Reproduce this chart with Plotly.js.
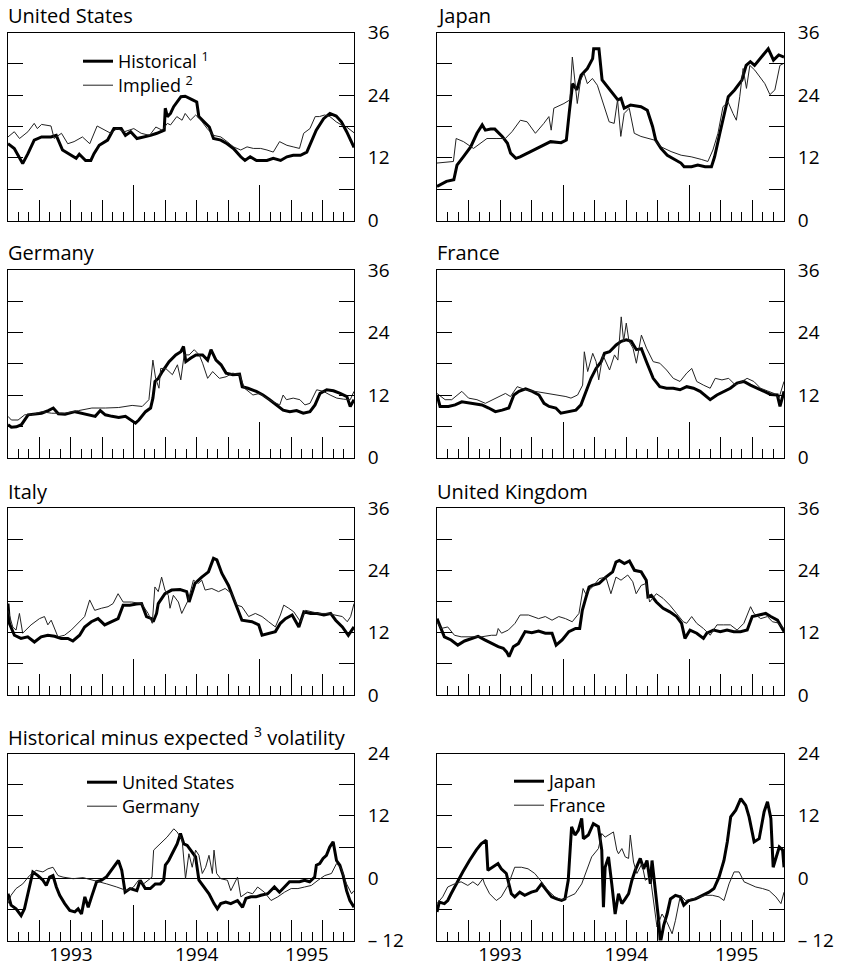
<!DOCTYPE html>
<html><head><meta charset="utf-8">
<script src="https://cdn.plot.ly/plotly-3.0.1.min.js"></script>
<style>html,body{margin:0;padding:0;background:#fff}</style>
</head><body><div id="chart" style="width:846px;height:970px"></div>
<script>
// ---- axis tick definitions (months since Jan 1993) ----
const monthTicks = [1,2,3,4,5,6,7,8,9,10,11,12,13,14,15,16,17,18,19,20,21,22,23,24,25,26,27,28,29,30,31,32];
const quarterTicks = [3,6,9,12,15,18,21,24,27,30];
const yearTicks = [12,24];
const yearLabelPos = [6,18,28.5];
const yearLabels = ['1993','1994','1995'];
const levelTicks = [0,12,24,36];
const levelText = ['0','12','24','36'];
const levelMinor = [6,18,30];
const diffTicks = [-12,0,12,24];
const diffText = ['\u2013 12','0','12','24'];
const diffMinor = [-6,6,18];

// ---- United States ----
const usHistM = [0,0.6,1.4,1.9,2.5,3.2,4.1,4.6,5.2,6.0,6.5,6.8,7.4,7.9,8.2,8.7,9.5,10.1,10.8,11.2,11.7,12.3,13.0,13.6,14.2,14.9,15.0,15.2,15.5,15.8,16.5,16.9,17.6,18.0,18.2,18.7,19.2,19.6,20.3,20.9,21.5,22.2,22.6,23.1,23.7,24.7,25.3,26.0,26.6,27.2,27.9,28.5,29.0,29.4,30.1,30.7,31.3,31.8,32.3,32.8,33.0];
const usHistV = [14.7,13.8,10.9,12.8,15.4,16.0,16.0,16.3,13.5,12.5,11.9,12.7,11.5,11.5,12.8,14.4,15.4,17.6,17.6,16.3,17.0,15.7,16.0,16.3,16.7,17.3,21.5,19.9,20.5,21.8,23.7,23.8,23.1,22.7,19.9,18.9,17.9,15.7,15.4,14.7,13.8,12.2,11.5,12.2,11.5,11.5,11.9,11.5,12.2,12.5,12.5,13.1,15.4,17.3,19.5,20.5,20.0,18.9,17.0,14.7,14.0];
const usImpM = [0,0.6,1.1,1.9,2.5,2.8,3.2,4.1,4.4,5.1,5.7,6.3,7.1,7.8,8.5,9.2,9.8,10.4,11.1,12.0,12.7,13.5,14.1,14.7,15.2,15.5,16.1,16.6,16.9,17.4,17.9,18.4,19.0,19.6,20.3,20.9,21.5,22.2,22.8,23.4,24.1,24.7,25.3,25.9,26.6,27.2,27.8,28.2,28.8,29.3,29.7,30.2,30.7,31.3,31.8,32.3,32.8,33.0];
const usImpV = [16.0,17.0,15.7,17.0,18.6,17.6,18.4,18.1,15.7,16.7,14.7,15.1,16.0,14.7,18.1,17.3,16.7,17.6,17.0,17.6,16.7,16.3,17.9,17.3,18.6,18.3,19.9,19.2,20.5,19.2,20.2,19.2,17.6,16.3,16.0,15.1,14.1,13.5,14.1,13.8,13.8,13.5,13.1,15.1,14.4,14.1,13.8,16.7,17.6,19.9,19.9,20.2,19.9,18.9,18.3,17.9,17.0,16.8];

// ---- Japan ----
const jpHistM = [0,0.9,1.6,1.9,2.5,3.2,3.8,4.3,4.6,5.1,5.5,6.2,6.7,7.0,7.5,7.9,8.9,9.8,10.8,11.8,12.3,12.6,12.9,13.3,13.7,14.3,14.8,14.9,15.4,15.7,16.2,16.9,17.2,17.5,17.8,18.4,19.4,20.0,20.5,20.8,21.3,21.9,22.6,23.2,23.5,24.2,24.8,25.5,26.1,26.4,26.9,27.4,27.7,28.3,29.0,29.4,29.8,30.2,30.7,31.5,32.0,32.5,33.0];
const jpHistV = [6.5,7.5,7.8,10.6,12.2,14.1,16.7,18.3,17.3,17.5,17.5,16.1,14.8,12.9,11.9,12.2,13.2,14.1,15.1,14.9,15.4,21.1,26.2,25.0,27.8,29.1,31.0,32.9,32.9,26.9,25.6,24.0,23.1,23.4,21.5,22.1,21.8,21.1,18.0,15.4,13.8,12.5,11.6,11.0,10.3,10.3,10.6,10.3,10.3,12.2,16.7,21.1,23.7,25.0,26.9,29.7,30.4,29.7,31.0,32.9,30.7,31.7,31.3];
const jpImpM = [0,1.56,1.82,2.52,3.47,4.11,4.75,5.7,6.5,7.13,7.93,8.57,9.36,10.16,10.64,10.86,11.11,12.07,12.64,12.87,13.09,13.34,13.66,13.98,14.3,14.78,15.25,15.73,16.37,16.85,17.17,17.48,17.8,18.28,18.76,19.39,20.03,20.67,21.31,22.26,23.22,24.17,25.13,25.76,26.24,26.72,27.2,27.68,28.15,28.47,28.79,29.11,29.43,29.75,30.22,30.7,31.18,31.66,32.13,32.61,33.0];
const jpImpV = [11.0,11.3,15.7,15.1,13.8,14.8,15.7,15.7,15.7,17.0,19.2,18.9,16.7,18.6,19.9,17.3,21.5,22.4,23.1,31.3,26.9,22.4,26.9,28.2,26.2,27.2,25.9,22.7,18.9,18.6,23.1,16.1,20.5,21.5,16.7,16.1,15.7,15.4,14.1,13.2,12.5,12.2,11.7,11.3,13.5,16.7,21.8,22.7,20.5,19.2,23.7,29.1,25.3,29.7,28.8,27.5,26.2,24.1,25.0,29.7,30.1];

// ---- Germany ----
const deHistM = [0,0.32,0.8,1.28,1.92,2.56,3.2,3.84,4.32,4.8,5.44,6.4,7.04,7.68,8.32,8.8,9.28,9.92,10.56,11.2,11.68,12.16,12.48,13.12,13.6,13.82,14.02,14.34,14.72,15.36,16.0,16.48,16.74,16.96,17.44,17.92,18.56,19.04,19.36,19.84,20.32,20.8,21.44,22.08,22.34,22.88,23.68,24.32,24.96,25.6,26.24,26.88,27.52,28.16,28.8,29.28,29.76,30.4,31.04,31.68,32.32,32.64,33.0];
const deHistV = [6.3,5.8,5.9,6.3,8.2,8.4,8.5,9.0,9.5,8.4,8.3,8.8,8.5,8.2,7.9,9.0,8.2,7.9,7.7,7.9,7.2,6.6,7.2,8.8,9.5,11.4,14.6,15.2,16.5,18.4,19.7,20.3,21.3,18.4,19.1,19.7,19.7,18.7,20.7,18.7,17.8,16.2,15.9,16.0,13.6,13.3,12.7,12.0,11.1,10.1,9.1,8.8,9.0,8.5,8.8,10.1,12.3,13.0,12.8,12.3,11.7,9.8,11.1];
const deImpM = [0,0.32,0.96,1.6,2.24,3.2,4.16,5.44,6.72,8.0,9.28,10.56,11.84,12.8,13.44,13.82,14.08,14.4,14.56,15.04,15.68,16.16,16.48,16.8,17.28,17.76,18.24,18.56,19.04,19.52,20.16,20.8,21.44,22.08,22.56,23.36,24.0,24.64,25.28,25.92,26.24,26.56,27.2,27.84,28.32,28.8,29.44,30.08,30.72,31.36,32.0,32.64,33.0];
const deImpV = [7.9,7.2,7.2,8.2,8.2,8.8,8.5,8.5,9.0,9.5,9.5,9.6,10.0,9.8,11.1,18.7,15.2,13.3,17.1,17.1,15.9,17.8,14.9,19.7,19.7,20.7,19.7,18.1,15.2,16.5,15.2,15.5,16.2,15.9,13.3,12.0,12.3,11.4,10.7,10.1,12.0,11.1,11.4,11.1,10.1,10.4,13.0,12.7,12.0,11.4,11.2,11.1,12.7];

// ---- France ----
const frHistM = [0,0.29,1.09,1.72,2.36,3.32,4.28,4.92,5.55,6.19,6.83,7.31,7.79,8.43,9.06,9.7,10.18,10.66,11.3,11.78,12.58,13.21,13.69,14.17,14.65,15.13,15.61,15.93,16.41,17.04,17.52,18.0,18.48,18.96,19.44,19.92,20.56,21.19,21.83,22.47,23.11,23.75,24.39,25.02,25.66,25.98,26.62,27.26,27.9,28.53,29.17,29.81,30.45,31.09,31.73,32.36,32.62,33.0];
const frHistV = [12.0,9.8,9.8,10.1,10.7,10.4,10.1,9.5,8.8,9.1,9.5,12.0,12.7,13.2,12.7,12.0,10.4,9.8,9.5,8.5,8.8,9.1,10.1,12.7,15.2,17.1,18.4,20.0,20.3,21.6,22.3,22.6,22.3,20.7,20.9,18.4,15.2,13.6,13.3,13.3,13.0,13.6,13.3,12.7,11.7,11.1,12.0,12.7,13.3,14.3,14.6,13.9,13.3,12.7,12.1,12.0,9.8,12.7];
const frImpM = [0,0.77,1.4,2.36,3.0,3.8,4.6,5.55,6.51,6.99,7.63,8.43,9.38,10.34,11.3,12.26,12.74,13.37,13.85,14.01,14.33,14.81,15.13,15.38,15.77,16.41,16.88,17.2,17.52,17.75,18.0,18.26,18.64,18.96,19.44,19.92,20.56,21.19,21.83,22.47,23.11,23.75,24.23,24.7,25.34,25.98,26.46,27.1,27.74,28.38,29.01,29.49,30.13,30.77,31.41,32.05,32.52,33.0];
const frImpV = [12.3,11.1,11.1,12.7,11.4,11.1,10.4,11.4,12.3,11.7,13.6,13.0,12.7,12.3,12.1,11.7,11.4,12.0,13.9,20.3,16.5,20.0,18.4,14.9,19.7,16.8,19.7,18.7,27.0,22.3,25.8,22.3,21.0,18.1,23.5,21.0,18.4,18.1,16.8,15.2,14.6,16.2,17.1,14.6,13.9,13.3,15.2,14.9,15.2,13.9,14.6,15.2,14.6,13.3,12.8,12.3,11.4,14.6];

// ---- Italy ----
const itHistM = [0,0.13,0.61,1.24,1.88,2.52,3.16,3.8,4.44,5.07,5.71,6.19,6.83,7.31,7.95,8.59,9.22,9.86,10.5,10.98,11.62,12.26,12.74,13.21,13.69,13.85,14.17,14.33,14.97,15.61,16.41,17.04,17.27,17.84,18.48,19.12,19.6,19.92,20.4,21.03,21.67,22.31,23.27,23.91,24.23,24.86,25.5,25.98,26.46,27.1,27.74,28.22,28.85,29.49,30.13,30.77,31.25,31.89,32.46,33.0];
const itHistV = [17.6,13.8,11.5,10.9,11.2,10.2,11.2,11.5,11.3,10.9,10.9,10.4,11.5,13.1,14.1,14.7,13.5,14.1,14.7,17.3,17.3,17.5,17.6,15.1,14.7,14.1,15.7,17.6,19.5,20.2,20.3,19.9,17.9,21.5,22.7,23.7,26.3,26.0,23.4,21.1,17.6,14.4,14.1,13.5,11.5,11.9,12.2,13.8,14.7,15.4,13.1,16.0,15.7,15.7,15.4,15.7,14.4,13.1,11.5,13.1];
const itImpM = [0,0.45,0.77,1.09,1.4,2.2,3.0,3.48,3.8,4.12,4.76,5.39,6.03,6.67,7.31,7.79,8.27,8.91,9.54,10.02,10.5,10.98,11.78,12.74,13.37,13.76,14.01,14.33,14.65,14.97,15.29,15.45,15.77,16.25,16.57,17.2,17.68,18.16,18.48,18.8,19.44,20.08,20.71,21.35,21.83,22.31,22.95,23.59,24.23,24.86,25.5,25.98,26.3,26.78,27.26,27.9,28.38,29.01,29.65,30.45,31.25,31.89,32.36,32.68,33.0];
const itImpV = [16.3,13.1,12.5,15.7,11.9,13.5,14.7,15.1,13.5,14.4,11.2,11.5,12.5,13.8,15.1,18.3,16.3,16.7,17.0,17.6,19.5,17.9,17.9,17.6,15.7,13.8,20.8,19.9,22.7,20.2,19.2,16.7,19.2,17.9,15.7,18.3,22.1,21.5,22.1,20.2,20.5,19.9,20.5,19.5,17.3,17.0,15.1,15.7,15.1,14.1,13.1,15.4,17.3,16.7,16.0,14.1,16.3,16.0,15.7,15.7,15.4,15.1,14.1,15.1,17.6];

// ---- United Kingdom ----
const ukHistM = [0,0.22,0.7,1.34,1.98,2.62,3.26,3.9,4.54,5.18,5.82,6.3,6.62,6.85,7.26,7.74,8.38,9.02,9.66,10.3,10.94,11.33,11.9,12.54,13.18,13.57,13.82,14.14,14.46,14.78,15.42,16.06,16.7,17.02,17.34,17.82,18.3,18.78,19.42,19.9,20.06,20.38,20.86,21.5,22.14,22.78,23.26,23.58,24.06,24.7,25.34,25.66,26.3,26.94,27.58,28.22,28.86,29.5,29.98,30.62,31.26,31.74,32.38,33.0];
const ukHistV = [14.7,13.5,11.2,10.6,9.6,10.4,10.9,11.3,10.6,9.9,9.3,9.0,8.3,7.4,9.3,9.9,12.2,12.0,12.3,11.9,11.9,9.6,10.6,12.2,12.8,12.8,16.3,18.6,20.8,21.1,21.5,22.7,23.7,25.6,25.9,25.3,25.8,24.0,23.7,22.1,18.9,19.2,17.9,16.7,16.0,15.1,13.8,10.9,12.5,11.9,10.9,11.9,12.5,12.2,12.5,12.2,12.2,12.5,15.1,15.4,15.7,15.1,14.4,12.2];
const ukImpM = [0,0.38,1.02,1.66,2.3,3.26,4.22,5.18,5.66,5.82,6.14,6.78,7.42,7.9,8.7,9.66,10.3,10.94,11.58,12.22,12.86,13.5,13.89,14.14,14.78,15.42,16.06,16.54,17.02,17.5,18.14,18.62,18.94,19.42,19.9,20.22,20.86,21.5,22.14,22.78,23.42,23.74,24.22,24.7,25.34,25.98,26.62,27.26,27.9,28.54,29.18,29.82,30.14,30.78,31.42,31.9,32.38,33.0];
const ukImpV = [14.1,12.8,13.1,11.5,11.2,11.2,11.2,11.5,11.5,12.8,11.9,12.5,13.8,15.4,15.4,14.7,15.1,14.4,15.1,14.7,14.1,15.7,20.5,19.5,20.8,22.4,22.7,19.5,22.7,22.1,23.1,21.8,19.5,21.1,21.5,17.9,19.5,18.6,17.3,15.7,14.1,13.8,15.1,13.8,12.8,11.5,13.5,13.5,13.5,12.5,13.8,17.0,15.7,14.7,15.1,14.1,13.9,12.8];

// ---- Historical minus expected volatility ----
const usDiffM = [0,0.29,0.77,1.25,1.57,2.05,2.37,2.85,3.33,3.65,3.97,4.29,4.61,4.93,5.41,5.89,6.37,6.69,7.01,7.33,7.65,7.97,8.45,8.93,9.41,10.05,10.53,10.85,11.17,11.65,12.29,12.61,13.09,13.57,14.05,14.53,14.85,15.01,15.33,15.65,16.13,16.45,16.77,17.09,17.57,17.89,18.21,18.69,19.17,19.65,19.97,20.29,20.77,21.25,21.89,22.37,22.69,23.17,23.65,24.13,24.77,25.41,25.89,26.37,26.85,27.33,27.81,28.29,28.77,29.25,29.41,29.73,30.05,30.37,30.69,31.01,31.33,31.65,31.97,32.29,32.61,33.0];
const usDiffV = [-3.0,-5.2,-5.9,-7.2,-5.9,-2.0,1.2,0.5,-0.4,-1.4,0.2,0.5,-1.7,-3.3,-4.9,-6.2,-6.5,-5.9,-6.9,-3.6,-5.6,-3.6,-0.7,-0.4,0.3,2.1,3.4,1.5,-2.7,-2.0,-2.4,-0.4,-2.0,-2.0,-1.1,-1.1,-0.4,2.5,3.4,4.7,6.6,8.6,6.6,6.3,5.0,4.1,-0.4,-1.7,-3.0,-4.9,-5.9,-4.9,-4.6,-4.9,-4.3,-5.6,-3.9,-3.6,-3.6,-3.3,-3.0,-1.7,-2.7,-1.7,-0.7,-0.7,-0.7,-0.4,-0.7,0.2,2.5,2.8,3.8,4.4,6.0,7.0,3.4,2.5,0.5,-2.4,-4.3,-5.6];
const deDiffM = [0,0.29,0.77,1.41,2.05,2.69,3.33,3.81,4.29,4.77,5.25,6.21,7.17,8.13,8.77,9.41,10.37,11.33,11.97,12.45,12.93,13.41,13.73,13.89,14.53,15.17,15.81,16.13,16.61,16.93,17.25,17.57,17.89,18.21,18.53,18.85,19.17,19.49,19.65,19.9,20.29,20.93,21.25,21.57,21.89,22.21,22.85,23.33,23.81,24.45,25.09,25.73,26.37,27.01,27.65,28.29,28.93,29.57,30.21,30.85,31.33,31.81,32.29,32.77,33.0];
const deDiffV = [-4.9,-3.3,-2.0,-1.1,0.5,1.5,1.2,1.8,2.1,0.5,0.2,-0.1,0.1,-0.4,-0.7,-1.1,-1.7,-2.4,-1.7,-0.4,-1.1,-0.4,0.2,5.4,6.6,7.9,9.5,8.9,7.3,-0.1,4.7,2.1,5.4,4.4,0.9,2.1,4.4,0.9,5.4,0.9,-0.1,-0.4,-2.4,-1.1,0.2,-3.6,-2.7,-3.0,-1.7,-2.7,-4.3,-3.6,-2.7,-2.0,-2.0,-1.7,-1.4,-0.4,0.5,0.9,2.8,1.8,-1.1,-3.0,-2.4];
const jpDiffM = [0,0.22,0.7,1.02,1.34,1.82,2.45,3.09,3.73,4.2,4.68,4.84,5.32,5.8,6.11,6.59,7.07,7.39,7.87,8.34,8.98,9.46,9.94,10.41,10.89,11.37,11.85,12.17,12.48,12.8,13.12,13.44,13.76,13.92,14.39,14.87,15.35,15.67,15.83,15.99,16.31,16.62,16.94,17.26,17.58,17.9,18.22,18.54,18.85,19.33,19.65,19.97,20.29,20.45,20.76,21.08,21.24,21.56,21.88,22.2,22.68,23.15,23.47,23.95,24.59,25.22,25.86,26.34,26.82,27.29,27.61,27.93,28.41,28.89,29.36,29.68,30.16,30.64,31.11,31.43,31.75,31.97,32.23,32.55,32.87,33.0];
const jpDiffV = [-6.5,-4.6,-4.9,-4.3,-3.0,-1.1,1.2,3.4,5.4,6.6,7.3,1.5,2.1,2.8,1.8,0.9,-3.0,-3.6,-2.7,-3.3,-2.7,-2.4,-1.1,-2.4,-3.6,-4.0,-4.3,-4.0,-0.4,9.9,8.3,9.2,11.5,7.6,8.3,10.5,9.9,5.4,-5.6,2.1,4.1,-1.1,-6.9,-3.0,-4.9,-4.0,-3.0,-0.4,1.5,3.8,1.8,3.4,-1.1,3.4,-1.7,-8.1,-12.5,-9.1,-6.9,-4.0,-3.3,-3.6,-5.2,-4.3,-4.0,-3.3,-2.7,-2.0,0.2,3.4,7.0,11.8,13.1,15.3,14.0,11.8,7.0,7.6,12.8,14.7,11.5,2.1,3.8,6.0,5.4,2.1];
const frDiffM = [0,0.54,1.02,1.66,2.29,2.93,3.41,3.89,4.36,4.52,5.0,5.64,6.11,6.75,7.39,8.03,8.66,9.3,9.94,10.57,11.21,11.85,12.48,13.12,13.76,14.24,14.71,15.35,15.67,15.99,16.46,16.78,17.1,17.26,17.58,17.9,18.22,18.38,18.69,19.01,19.49,19.81,20.29,20.61,20.92,21.4,21.88,22.36,22.68,23.15,23.63,24.27,24.9,25.54,26.18,26.82,27.29,27.77,28.25,28.73,29.2,29.68,30.32,30.96,31.59,32.23,32.71,33.0];
const frDiffV = [-4.9,-3.6,-1.7,-1.1,-0.7,-1.4,-0.7,-1.4,-0.1,-1.1,-3.0,-4.3,-3.6,-1.4,2.1,2.1,1.8,0.9,-0.7,-2.4,-3.6,-4.2,-3.6,-3.0,-1.1,1.5,4.1,5.7,8.6,7.9,8.6,8.9,5.4,4.7,5.7,4.1,3.8,8.3,3.1,0.9,2.8,-0.4,0.2,-4.3,-9.4,-6.9,-8.5,-10.7,-8.1,-3.3,-4.3,-4.0,-3.6,-3.3,-3.3,-3.6,-4.3,-1.1,1.2,1.2,-0.7,-1.1,-1.7,-2.0,-2.4,-3.6,-4.9,-2.7];

// ---- layout helpers ----
const FONT = '"Open Sans", sans-serif';
const W = 846, H = 970;
const fx = px => px / W;
const fy = px => 1 - px / H;
const colPx = [[8, 354], [437, 784]];
const rowPx = [[32.5, 220.5], [270, 457.5], [508, 695], [753.5, 940.5]];

// legend boxes: [left px, top px] for each legend entry
const legendPos = {
  legend: [78, 43], legend4: [78, 67],
  legend2: [82, 764], legend5: [82, 788],
  legend3: [509, 763], legend6: [509, 787]
};

const panels = [
  {title: 'United States', col: 0, row: 0,
   series: [[usHistM, usHistV, 'Historical <sup>1</sup>', 3, 'legend'], [usImpM, usImpV, 'Implied <sup>2</sup>', 1, 'legend4']]},
  {title: 'Japan', col: 1, row: 0, series: [[jpHistM, jpHistV, 'Historical', 3], [jpImpM, jpImpV, 'Implied', 1]]},
  {title: 'Germany', col: 0, row: 1, series: [[deHistM, deHistV, 'Historical', 3], [deImpM, deImpV, 'Implied', 1]]},
  {title: 'France', col: 1, row: 1, series: [[frHistM, frHistV, 'Historical', 3], [frImpM, frImpV, 'Implied', 1]]},
  {title: 'Italy', col: 0, row: 2, series: [[itHistM, itHistV, 'Historical', 3], [itImpM, itImpV, 'Implied', 1]]},
  {title: 'United Kingdom', col: 1, row: 2, series: [[ukHistM, ukHistV, 'Historical', 3], [ukImpM, ukImpV, 'Implied', 1]]},
  {title: 'Historical minus expected <sup>3</sup> volatility', col: 0, row: 3, diff: true,
   series: [[usDiffM, usDiffV, 'United States', 3, 'legend2'], [deDiffM, deDiffV, 'Germany', 1, 'legend5']]},
  {title: '', col: 1, row: 3, diff: true,
   series: [[jpDiffM, jpDiffV, 'Japan', 3, 'legend3'], [frDiffM, frDiffV, 'France', 1, 'legend6']]}
];
const titleY = [15.5, 252.5, 491, 736];

const traces = [];
const layout = {
  width: W, height: H, autosize: false,
  margin: {l: 0, r: 0, t: 0, b: 0, pad: 0},
  paper_bgcolor: '#fff', plot_bgcolor: '#fff',
  font: {family: FONT, size: 19, color: '#000'},
  showlegend: true,
  annotations: [],
  hovermode: false
};
const legendBase = {bgcolor: 'rgba(0,0,0,0)', borderwidth: 0, xanchor: 'left', yanchor: 'top',
  font: {family: FONT, size: 18, color: '#000'}, tracegroupgap: 0, itemclick: false, itemdoubleclick: false};
Object.keys(legendPos).forEach(k => {
  layout[k] = Object.assign({}, legendBase, {x: fx(legendPos[k][0]), y: fy(legendPos[k][1])});
});

const RANGE_X = [0, 33];
let extra = 9;
panels.forEach((p, i) => {
  const n = i + 1;
  const xk = n === 1 ? 'xaxis' : 'xaxis' + n;
  const yk = n === 1 ? 'yaxis' : 'yaxis' + n;
  const xr = n === 1 ? 'x' : 'x' + n;
  const yr = n === 1 ? 'y' : 'y' + n;
  const cd = colPx[p.col], rd = rowPx[p.row];
  layout[xk] = {
    domain: [fx(cd[0]), fx(cd[1])], range: RANGE_X, anchor: yr,
    tickmode: 'array', tickvals: quarterTicks, ticks: 'inside', ticklen: 21, tickwidth: 1, tickcolor: '#000',
    minor: {tickmode: 'array', tickvals: monthTicks, ticks: 'inside', ticklen: 9, tickwidth: 1, tickcolor: '#000', showgrid: false},
    showticklabels: false, showline: true, linecolor: '#000', linewidth: 1, mirror: true,
    showgrid: false, zeroline: false, fixedrange: true
  };
  layout[yk] = {
    domain: [fy(rd[1]), fy(rd[0])], range: p.diff ? [-12, 24] : [0, 36], anchor: xr, side: 'right',
    tickmode: 'array', tickvals: p.diff ? diffTicks : levelTicks, ticktext: p.diff ? diffText : levelText,
    ticks: 'inside', ticklen: 15, tickwidth: 1, tickcolor: '#000', ticklabelstandoff: 9,
    minor: {tickmode: 'array', tickvals: p.diff ? diffMinor : levelMinor, ticks: 'inside', ticklen: 15, tickwidth: 1, tickcolor: '#000', showgrid: false},
    showline: true, linecolor: '#000', linewidth: 1, mirror: 'ticks',
    showgrid: false, zeroline: !!p.diff, zerolinecolor: '#000', zerolinewidth: 1,
    tickfont: {family: FONT, size: 19, color: '#000'}, fixedrange: true
  };
  // year ticks (long)
  const yrAx = 'xaxis' + extra, yrRef = 'x' + extra; extra++;
  layout[yrAx] = {
    overlaying: xr, anchor: yr, range: RANGE_X, side: 'bottom',
    tickmode: 'array', tickvals: yearTicks, ticks: 'inside', ticklen: 36, tickwidth: 1, tickcolor: '#000',
    showticklabels: false, showline: false, showgrid: false, zeroline: false, fixedrange: true
  };
  traces.push({type: 'scatter', mode: 'lines', x: [], y: [], xaxis: yrRef, yaxis: yr, showlegend: false, hoverinfo: 'skip'});
  if (p.diff) {
    const lbAx = 'xaxis' + extra, lbRef = 'x' + extra; extra++;
    layout[lbAx] = {
      overlaying: xr, anchor: yr, range: RANGE_X, side: 'bottom',
      tickmode: 'array', tickvals: yearLabelPos, ticktext: yearLabels, ticks: '',
      showticklabels: true, showline: false, showgrid: false, zeroline: false, fixedrange: true,
      tickfont: {family: FONT, size: 19, color: '#000'}
    };
    traces.push({type: 'scatter', mode: 'lines', x: [], y: [], xaxis: lbRef, yaxis: yr, showlegend: false, hoverinfo: 'skip'});
  }
  p.series.forEach(s => {
    const t = {
      type: 'scatter', mode: 'lines', x: s[0], y: s[1], name: s[2],
      xaxis: xr, yaxis: yr,
      line: {color: s[3] > 1 ? '#000' : '#222', width: s[3]},
      showlegend: !!s[4], hoverinfo: 'skip'
    };
    if (s[4]) t.legend = s[4];
    traces.push(t);
  });
  if (p.title) {
    layout.annotations.push({
      text: p.title, xref: 'paper', yref: 'paper', x: fx(cd[0] - 2), y: fy(titleY[p.row]),
      xanchor: 'left', yanchor: 'middle', showarrow: false,
      font: {family: FONT, size: 20, color: '#000'}
    });
  }
});

Plotly.newPlot('chart', traces, layout, {staticPlot: true, displayModeBar: false});
</script>
</body></html>
